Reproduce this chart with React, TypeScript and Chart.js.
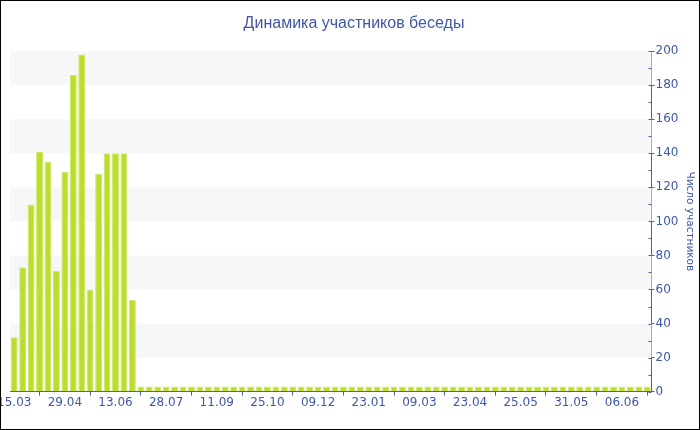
import React, { useEffect, useRef } from "react";
import { Chart, registerables } from "chart.js";

Chart.register(...registerables);

const TITLE = "Динамика участников беседы";
const Y_TITLE = "Число участников";
const TICK_LABELS = ["15.03", "29.04", "13.06", "28.07", "11.09", "25.10", "09.12", "23.01", "09.03", "23.04", "25.05", "31.05", "06.06"];
const TICK_EVERY = 6;
const PEAK_VALUES = [32, 73, 110, 141, 135, 71, 129, 186, 198, 60, 128, 140, 140, 140, 54];
const TAIL_VALUE = 3;
const TAIL_COUNT = 61;

const VALUES: number[] = [...PEAK_VALUES, ...Array(TAIL_COUNT).fill(TAIL_VALUE)];
const CATEGORIES: string[] = VALUES.map((_, i) =>
  i % TICK_EVERY === 0 && TICK_LABELS[i / TICK_EVERY] ? TICK_LABELS[i / TICK_EVERY] : ""
);

const BLUE = "#3f58a6";
const AXIS = "#4a62ad";

const bandsPlugin = {
  id: "bands",
  beforeDatasetsDraw(chart: any) {
    const { ctx, chartArea, scales } = chart;
    const y = scales.y;
    ctx.save();
    ctx.fillStyle = "#f7f7f7";
    for (let v = 20; v < 200; v += 40) {
      const top = y.getPixelForValue(v + 20);
      const bot = y.getPixelForValue(v);
      ctx.fillRect(chartArea.left, top, chartArea.right - chartArea.left, bot - top);
    }
    ctx.restore();
  },
  afterDraw(chart: any) {
    const { ctx, chartArea, scales } = chart;
    const y = scales.y;
    ctx.save();
    ctx.strokeStyle = AXIS;
    ctx.lineWidth = 1;
    for (let v = 0; v <= 200; v += 10) {
      const py = Math.round(y.getPixelForValue(v)) + 0.5;
      const x = Math.round(chartArea.right) + 0.5;
      ctx.beginPath();
      ctx.moveTo(x - 3, py);
      ctx.lineTo(x, py);
      ctx.stroke();
    }
    ctx.restore();
    ctx.save();
    ctx.strokeStyle = "#000";
    ctx.lineWidth = 1;
    ctx.strokeRect(0.5, 0.5, chart.width - 1, chart.height - 1);
    ctx.restore();
  },
};

export default function App() {
  const ref = useRef<HTMLCanvasElement | null>(null);
  useEffect(() => {
    if (!ref.current) return;
    const chart = new Chart(ref.current, {
      type: "bar",
      data: {
        labels: CATEGORIES,
        datasets: [
          {
            data: VALUES,
            backgroundColor: "#bade2e",
            borderColor: "#cde868",
            borderWidth: 1,
            barPercentage: 0.82,
            categoryPercentage: 1,
          },
        ],
      },
      options: {
        animation: false,
        responsive: false,
        maintainAspectRatio: false,
        layout: { padding: { left: 10, right: 2, top: 4, bottom: 20 } },
        plugins: {
          legend: { display: false },
          tooltip: { enabled: false },
          title: {
            display: true,
            text: TITLE,
            color: BLUE,
            font: { family: "Liberation Sans", size: 16, weight: "normal" },
            padding: { top: 10, bottom: 18 },
          },
        },
        scales: {
          x: {
            offset: true,
            grid: { display: true, drawOnChartArea: false, drawTicks: true, tickLength: 4, color: AXIS },
            border: { display: true, color: AXIS, width: 1 },
            afterFit: (scale: any) => {
              scale.paddingLeft = 0;
              scale.paddingRight = 0;
            },
            ticks: {
              autoSkip: false,
              maxRotation: 0,
              padding: 0,
              color: BLUE,
              font: { family: "DejaVu Sans", size: 12 },
              callback: (_v: any, i: number) => (CATEGORIES[i] ? CATEGORIES[i] : null),
            },
          },
          y: {
            position: "right",
            min: 0,
            max: 200,
            grid: { display: true, drawOnChartArea: false, drawTicks: true, tickLength: 3, color: AXIS },
            border: { display: true, color: AXIS, width: 1 },
            ticks: {
              stepSize: 20,
              padding: 1,
              color: BLUE,
              font: { family: "DejaVu Sans", size: 12 },
            },
            title: {
              display: true,
              text: Y_TITLE,
              color: BLUE,
              font: { family: "DejaVu Sans", size: 10.5 },
              padding: { top: 2, bottom: 4 },
            },
          },
        },
      },
      plugins: [bandsPlugin],
    });
    return () => chart.destroy();
  }, []);
  return (
    <div style={{ position: "fixed", left: 0, top: 0, width: 700, height: 430 }}>
      <canvas ref={ref} width={700} height={430} style={{ width: 700, height: 430, display: "block" }} />
    </div>
  );
}
